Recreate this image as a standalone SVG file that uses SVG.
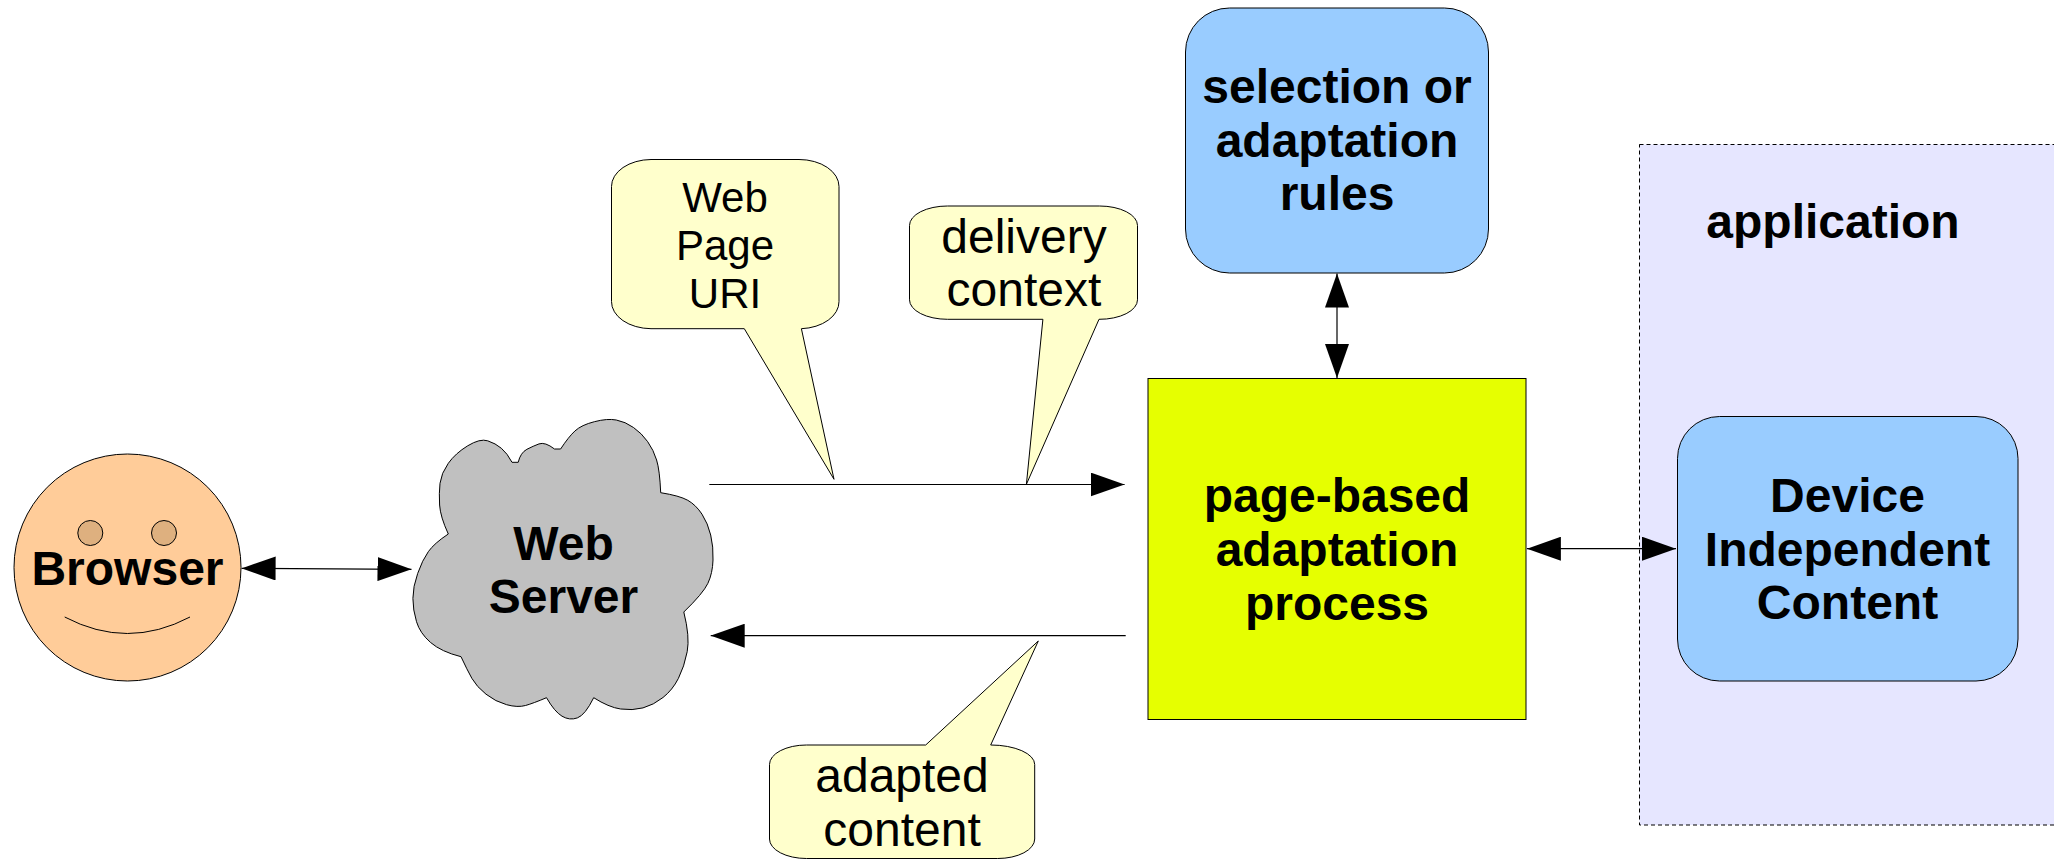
<svg xmlns="http://www.w3.org/2000/svg" width="2054" height="859" viewBox="0 0 2054 859">
<style>
text{font-family:"Liberation Sans",Arial,sans-serif;font-size:48px;fill:#000;text-anchor:middle}
.b{font-weight:bold}
.m{font-size:42px}
.s{stroke:#000;stroke-width:1}
.c{fill:#ffc;stroke:#000;stroke-width:1;stroke-linejoin:round}
.blue{fill:#9cf;stroke:#000;stroke-width:1}
.a{fill:none;stroke:#000;stroke-width:1.2}
.both{marker-start:url(#h);marker-end:url(#h)}
.end{marker-end:url(#h)}
</style>
<defs>
<marker id="h" markerUnits="userSpaceOnUse" viewBox="0 0 34 24" markerWidth="34" markerHeight="24" refX="34" refY="12" orient="auto-start-reverse"><path d="M0 0L34 12L0 24Z" fill="#000"/></marker>
</defs>
<rect width="2054" height="859" fill="#fff"/>
<g id="application">
<rect x="1639.5" y="144.5" width="420" height="680.5" fill="#e6e6ff" stroke="#000" stroke-width="1" stroke-dasharray="4 3"/>
<text class="b" x="1833" y="238">application</text>
</g>
<g id="browser">
<circle cx="127.5" cy="567.5" r="113.5" fill="#fc9" class="s"/>
<circle cx="90.3" cy="533" r="12.5" fill="#deb07f" class="s"/>
<circle cx="164" cy="533" r="12.5" fill="#deb07f" class="s"/>
<path d="M64.7 617Q127.4 650 190 617" fill="none" class="s"/>
<text class="b" x="127.5" y="585">Browser</text>
</g>
<g id="web-server">
<path d="M448.3 534Q440.3 516.7 439.6 505Q438.9 493.3 440 483.3Q441.2 473.3 448.3 463.3Q455.4 453.3 467.7 445.8Q480 438.3 487.7 440.8Q495.5 443.3 501.4 448.3Q507.3 453.3 512 462.3L518.2 462.3Q520.5 452.7 526.9 449.3Q533.3 446 539 443.9Q545 441.7 554.5 449L560.6 449Q568.7 436.7 575 430.9Q581.4 425 594.4 421.7Q607.4 418.3 616.3 420Q625.3 421.7 633.5 427.5Q641.8 433.3 647.7 441.7Q653.6 450 656.6 460Q659.7 470 660.7 492.7Q679.6 495.7 687.8 500.3Q696 505 702 514.2Q707.9 523.3 710.7 535Q713.5 546.7 713 560Q712.6 573.3 707.9 583.3Q703.2 593.3 683.8 612Q690 636.7 687.2 651.7Q684.3 666.7 678.4 678.4Q672.5 690 663 697.5Q653.6 705 643 707.9Q632.4 710.7 620.6 709Q608.8 707.3 593.7 697.7Q585.2 715 577.4 717.9Q569.6 720.7 562 716.2Q554.5 711.7 546.5 697.7Q533.3 703.3 525.5 705.5Q517.7 707.7 506.6 704.7Q495.5 701.7 486 694.2Q476.6 686.7 471.9 678.4Q467.2 670 461 656.7Q441.2 651.7 430.6 642.5Q420 633.3 416.5 621.7Q412.9 610 412.9 598.4Q412.9 586.7 417.7 573.4Q422.4 560 428.3 551.7Q434.2 543.3 448.3 534Z" fill="#c0c0c0" stroke="#000" stroke-width="1" stroke-linejoin="round"/>
<text class="b" x="563.5" y="560">Web</text>
<text class="b" x="563.5" y="613">Server</text>
</g>
<g id="connectors">
<path class="a both" d="M241.6 568.3L411.5 569.3"/>
<path class="a end" d="M709.3 484.5H1124.6"/>
<path class="a end" d="M1125.7 635.7H710.7"/>
<path class="a both" d="M1337 273.5V378"/>
<path class="a both" d="M1526.9 548.7H1676"/>
</g>
<g id="uri-callout">
<path class="c" d="M651 159.5H799A40 27 0 0 1 839 186.5V301.5A40 27 0 0 1 801.4 328.7L834 479.3L744.3 328.7H651A40 27 0 0 1 611.5 301.5V186.5A40 27 0 0 1 651 159.5Z"/>
<text class="m" x="725" y="212">Web</text>
<text class="m" x="725" y="260">Page</text>
<text class="m" x="725" y="308">URI</text>
</g>
<g id="delivery-callout">
<path class="c" d="M947.5 206H1099.5A38 19.5 0 0 1 1137.5 225.5V299.8A38 19.5 0 0 1 1099 319.3L1026.4 484.3L1042.9 319.3H947.5A38 19.5 0 0 1 909.5 299.8V225.5A38 19.5 0 0 1 947.5 206Z"/>
<text x="1024" y="253">delivery</text>
<text x="1024" y="306">context</text>
</g>
<g id="adapted-callout">
<path class="c" d="M806.5 745H925.7L1038.3 641L990.7 745A44 19.5 0 0 1 1034.7 764.5V839A37 19.5 0 0 1 997.7 858.5H806.5A37 19.5 0 0 1 769.5 839V764.5A37 19.5 0 0 1 806.5 745Z"/>
<text x="902" y="792">adapted</text>
<text x="902" y="846">content</text>
</g>
<g id="rules">
<rect class="blue" x="1185.5" y="8" width="303" height="265" rx="44" ry="44"/>
<text class="b" x="1337" y="103">selection or</text>
<text class="b" x="1337" y="157">adaptation</text>
<text class="b" x="1337" y="210">rules</text>
</g>
<g id="adaptation-process">
<rect x="1148" y="378.5" width="378" height="341" fill="#e6ff00" class="s"/>
<text class="b" x="1337" y="512">page-based</text>
<text class="b" x="1337" y="566">adaptation</text>
<text class="b" x="1337" y="620">process</text>
</g>
<g id="content">
<rect class="blue" x="1677.5" y="416.5" width="340.5" height="264.5" rx="42" ry="42"/>
<text class="b" x="1847.5" y="512">Device</text>
<text class="b" x="1847.5" y="566">Independent</text>
<text class="b" x="1847.5" y="619">Content</text>
</g>
</svg>
